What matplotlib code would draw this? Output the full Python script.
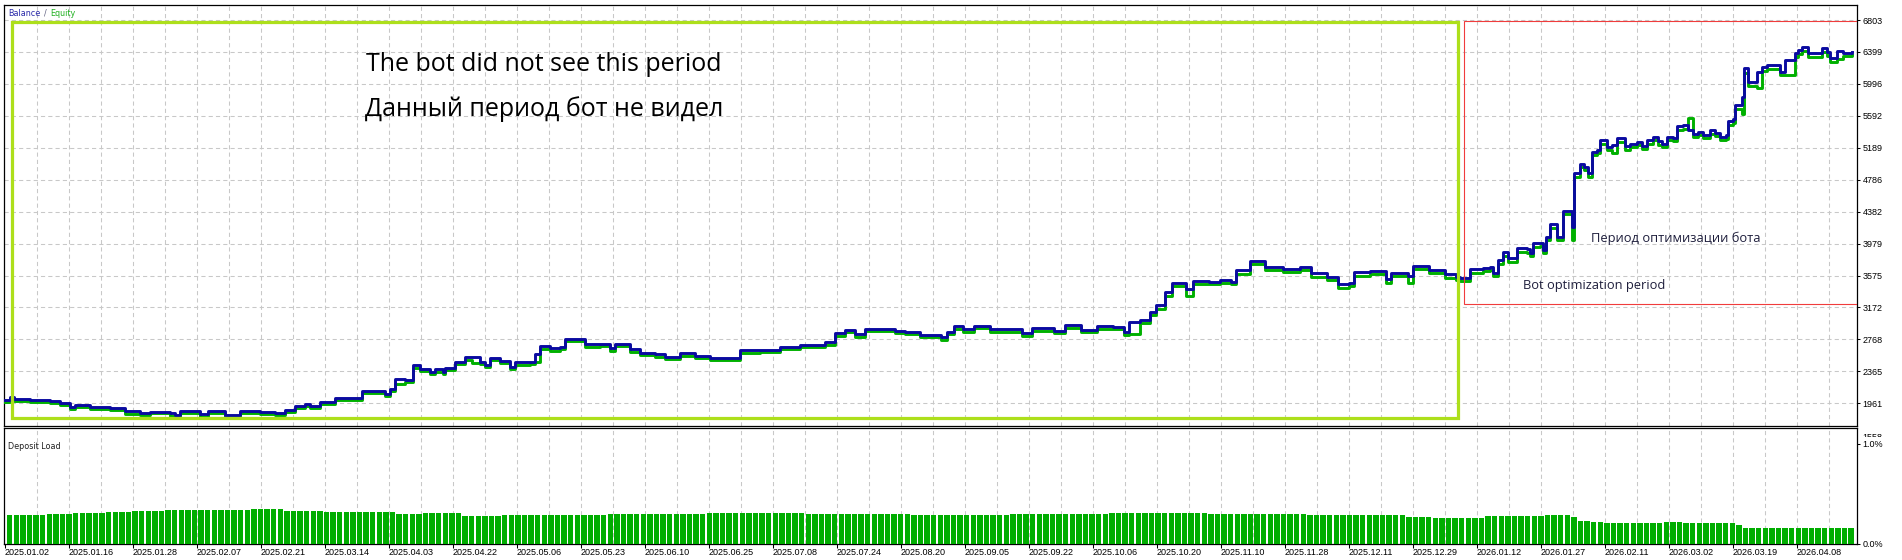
import numpy as np
import matplotlib.pyplot as plt
from matplotlib.patches import Rectangle

# ---- data read from the tester report ----
# balance curve: position along the deal axis, account balance ($)
bal_x = [0, 5, 9, 25, 45, 55, 65, 70, 85, 105,
         120, 135, 145, 165, 170, 175, 195, 203, 220, 235,
         255, 270, 280, 290, 300, 305, 315, 330, 345, 357,
         370, 380, 385, 390, 400, 408, 415, 425, 430, 438,
         440, 450, 460, 467, 475, 480, 485, 495, 505, 510,
         525, 530, 535, 545, 555, 560, 573, 580, 595, 605,
         610, 625, 635, 650, 660, 675, 690, 705, 720, 735,
         755, 775, 795, 820, 830, 840, 850, 860, 875, 890,
         900, 915, 936, 942, 949, 958, 969, 985, 1001, 1017,
         1027, 1049, 1060, 1076, 1092, 1108, 1119, 1124, 1135, 1145,
         1151, 1160, 1167, 1178, 1181, 1188, 1204, 1215, 1226, 1231,
         1245, 1253, 1260, 1278, 1295, 1306, 1322, 1333, 1344, 1349,
         1365, 1381, 1386, 1403, 1408, 1424, 1440, 1451, 1455, 1465,
         1478, 1485, 1488, 1493, 1498, 1503, 1508, 1512, 1517, 1522,
         1525, 1528, 1535, 1538, 1541, 1545, 1550, 1552, 1558, 1563,
         1567, 1569, 1575, 1579, 1583, 1587, 1592, 1595, 1602, 1607,
         1612, 1620, 1625, 1632, 1637, 1642, 1648, 1653, 1657, 1662,
         1668, 1672, 1678, 1683, 1688, 1693, 1698, 1705, 1710, 1715,
         1721, 1723, 1728, 1730, 1737, 1739, 1743, 1752, 1757, 1762,
         1775, 1780, 1790, 1793, 1797, 1803, 1817, 1822, 1825, 1832,
         1838, 1847]
bal_v = [2003, 2045, 2015, 2003, 1990, 1961, 1918, 1936, 1911, 1898,
         1860, 1842, 1855, 1835, 1810, 1864, 1822, 1864, 1813, 1864,
         1848, 1835, 1877, 1927, 1948, 1927, 1981, 2024, 2032, 2120,
         2120, 2079, 2138, 2268, 2255, 2441, 2394, 2360, 2391, 2360,
         2411, 2487, 2542, 2550, 2487, 2445, 2530, 2495, 2424, 2479,
         2487, 2580, 2685, 2656, 2676, 2773, 2773, 2706, 2706, 2656,
         2706, 2643, 2593, 2580, 2550, 2593, 2559, 2537, 2537, 2634,
         2634, 2668, 2698, 2732, 2845, 2887, 2833, 2900, 2900, 2878,
         2866, 2828, 2795, 2866, 2938, 2896, 2938, 2896, 2896, 2845,
         2908, 2878, 2950, 2887, 2938, 2929, 2866, 2992, 3013, 3118,
         3203, 3371, 3477, 3477, 3401, 3510, 3497, 3519, 3497, 3645,
         3763, 3763, 3679, 3654, 3687, 3603, 3560, 3468, 3485, 3623,
         3636, 3527, 3611, 3569, 3695, 3645, 3594, 3560, 3540, 3654,
         3666, 3679, 3611, 3771, 3876, 3793, 3800, 3927, 3927, 3906,
         3856, 3982, 3982, 3898, 4066, 4226, 4226, 4066, 4394, 4394,
         4192, 4866, 4980, 4950, 4866, 5139, 5161, 5287, 5195, 5224,
         5309, 5211, 5237, 5266, 5211, 5287, 5321, 5274, 5237, 5329,
         5309, 5464, 5473, 5413, 5359, 5392, 5350, 5413, 5379, 5329,
         5350, 5527, 5552, 5729, 5834, 6193, 6016, 6150, 6205, 6235,
         6150, 6298, 6382, 6424, 6458, 6382, 6446, 6403, 6319, 6415,
         6390, 6403]
# balance minus equity at the same points ($)
eq_gap = [20, 15, 20, 20, 25, 25, 30, 20, 25, 25, 30, 25, 20, 30, 25, 20, 30, 20, 25, 20,
          25, 25, 30, 25, 20, 30, 25, 20, 25, 30, 25, 30, 20, 60, 25, 40, 30, 25, 30, 25,
          30, 25, 30, 75, 25, 30, 25, 30, 25, 30, 25, 100, 40, 30, 25, 30, 25, 30, 25, 30,
          25, 30, 25, 30, 25, 30, 25, 30, 25, 40, 30, 25, 30, 35, 40, 30, 35, 30, 25, 35,
          30, 35, 40, 30, 40, 35, 30, 30, 35, 40, 30, 35, 40, 30, 35, 30, 40, 150, 40, 45,
          50, 60, 40, 35, 80, 40, 35, 40, 35, 50, 45, 40, 40, 35, 40, 45, 40, 45, 40, 50,
          40, 50, 40, 85, 40, 40, 45, 40, 35, 45, 40, 35, 45, 50, 60, 45, 50, 55, 50, 45,
          40, 45, 40, 35, 45, 50, 45, 40, 45, 45, 170, 45, 40, 45, 40, 45, 40, 45, 40, 100,
          50, 45, 40, 45, 40, 45, 40, 45, 40, 45, 40, 45, 45, -150, 40, 45, 40, 45, 45, 40,
          45, 50, 45, 50, 220, 55, 45, 200, 45, 50, 45, 190, 45, 50, 45, 40, 45, 50, 45, 100,
          40, 45]

# deposit load (%): level starting at each position
load_start = [0, 40, 65, 95, 125, 160, 205, 240, 275, 315, 385, 415, 455,
              495, 600, 700, 800, 900, 1000, 1100, 1200, 1300, 1397, 1425,
              1475, 1535, 1560, 1570, 1580, 1595, 1655, 1675, 1725, 1735]
load_level = [0.285, 0.295, 0.305, 0.32, 0.325, 0.335, 0.34, 0.345, 0.33, 0.32, 0.295, 0.31, 0.28,
              0.29, 0.30, 0.31, 0.30, 0.29, 0.30, 0.31, 0.30, 0.29, 0.27, 0.26,
              0.275, 0.285, 0.27, 0.23, 0.22, 0.21, 0.22, 0.21, 0.19, 0.16]
load_end = 1848

y_ticks = [1961, 2365, 2768, 3172, 3575, 3979, 4382, 4786, 5189, 5592, 5996, 6399, 6803]
date_labels = ['2025.01.02', '2025.01.16', '2025.01.28', '2025.02.07', '2025.02.21', '2025.03.14',
               '2025.04.03', '2025.04.22', '2025.05.06', '2025.05.23', '2025.06.10', '2025.06.25',
               '2025.07.08', '2025.07.24', '2025.08.20', '2025.09.05', '2025.09.22', '2025.10.06',
               '2025.10.20', '2025.11.10', '2025.11.28', '2025.12.11', '2025.12.29', '2026.01.12',
               '2026.01.27', '2026.02.11', '2026.03.02', '2026.03.19', '2026.04.08']

# ---- figure layout (pixel based, 1902x560) ----
W, H = 1902, 560
fig = plt.figure(figsize=(W / 100, H / 100), dpi=100)


def fx(px):
    return px / W


def fy(py):
    return 1 - py / H


ax = fig.add_axes([fx(4), fy(426), fx(1857) - fx(4), fy(4.5) - fy(426)])
ax2 = fig.add_axes([fx(4), fy(543.5), fx(1857) - fx(4), fy(428) - fy(543.5)])

tick_font = dict(family='Liberation Sans', size=6.5)
grid_kw = dict(color='#C8C8C8', lw=0.75, dashes=(4, 3))

# ---- main panel: balance / equity ----
bal_x = np.array(bal_x)
bal_v = np.array(bal_v)
eq_v = bal_v - np.array(eq_gap)

ax.plot(bal_x, eq_v, drawstyle='steps-post', color='#00B000', lw=2.1, zorder=3)
ax.plot(bal_x, bal_v, drawstyle='steps-post', color='#0A0AA0', lw=2.1, zorder=4)

ax.set_xlim(-1, 1852)
ax.set_ylim(1674, 6999)
ax.set_yticks(y_ticks)
ax.set_yticklabels([str(t) for t in y_ticks], **tick_font)
ax.yaxis.tick_right()
ax.tick_params(axis='y', length=2.5, width=0.75, pad=1.5)
ax.tick_params(axis='x', bottom=False, labelbottom=False)
vgrid = np.arange(32, 1852, 32)
for v in vgrid:
    ax.axvline(v, zorder=1, **grid_kw)
for t in y_ticks:
    ax.axhline(t, zorder=1, **grid_kw)
for s in ax.spines.values():
    s.set_linewidth(0.9)

# annotation rectangles
ax.add_patch(Rectangle((7, 1775), 1446, 6778 - 1775, fill=False,
                       edgecolor='#ADDF1B', lw=2.3, zorder=5))
ax.add_patch(Rectangle((1459, 3215), 410, 6794 - 3215, fill=False,
                       edgecolor='#F03C3C', lw=0.8, zorder=5))

# ---- lower panel: deposit load ----
starts = np.array(load_start + [load_end])
step = 6.6
pos = np.arange(2, load_end, step)
seg = np.searchsorted(starts, pos, side='right') - 1
heights = np.array(load_level)[seg]
ax2.bar(pos, heights, width=step - 1.2, align='edge', color='#00AD00', lw=0, zorder=3)
ax2.set_xlim(-1, 1852)
ax2.set_ylim(0, 1.155)
ax2.set_yticks([0, 1.0])
ax2.set_yticklabels(['0.0%', '1.0%'], **tick_font)
ax2.yaxis.tick_right()
ax2.tick_params(axis='y', length=2.5, width=0.75, pad=1.5)
ax2.set_xticks(np.arange(len(date_labels)) * 64)
ax2.set_xticklabels(date_labels, ha='left', **tick_font)
ax2.tick_params(axis='x', length=3, width=0.75, pad=0.5)
for v in vgrid:
    ax2.axvline(v, zorder=1, **grid_kw)
for s in ax2.spines.values():
    s.set_linewidth(0.9)

# partially hidden bottom label of the main scale
lbl = fig.text(fx(1862), fy(437.5), '1558', ha='left', va='center', **tick_font)
clip = Rectangle((1858, H - 437), 60, 12, transform=None)
lbl.set_clip_path(clip)

# ---- texts ----
small = dict(family='DejaVu Sans', size=5.8)
fig.text(fx(8), fy(16), 'Balance', color='#2828A8', **small)
fig.text(fx(43.5), fy(16), '/', color='#606080', **small)
fig.text(fx(50), fy(16), 'Equity', color='#20B020', **small)
fig.text(fx(8), fy(449), 'Deposit Load', color='#202020', **small)

big = dict(family='Open Sans', size=18, color='black', va='baseline')
fig.text(fx(366), fy(70.7), 'The bot did not see this period', **big)
fig.text(fx(365), fy(116), 'Данный период бот не видел', **big)

note = dict(family='Open Sans', size=9.3, color='#1E1E3C', va='baseline')
fig.text(fx(1590.7), fy(241.7), 'Период оптимизации бота', **note)
fig.text(fx(1523), fy(289.3), 'Bot optimization period', **note)

fig.savefig('out.png', dpi=100)
